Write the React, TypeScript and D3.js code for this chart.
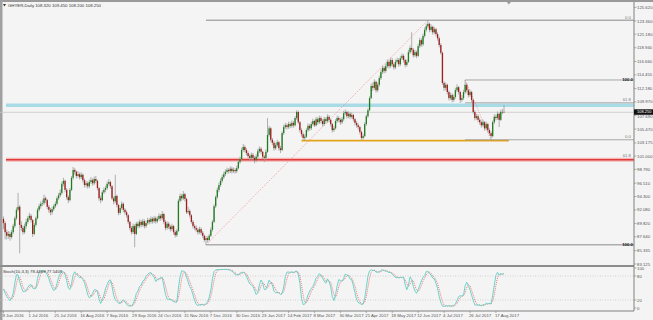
import React from 'react';
import * as d3 from 'd3';

const W = 653;
const H = 320;

const titleText = 'GHYER,Daily 108.320 109.450 108.200 108.250';
const stochTitle = 'Stoch(10,3,3) 78.4469 77.5409';

const firstOpen = 90.6;
const closes = [
  89.9,88.4,87.8,88.1,87.6,88.4,89.4,90.7,92.1,92.6,
  89.6,89.1,88.4,89.4,90.1,90.7,91.1,90.4,88.1,89.6,
  90.7,92.1,92.7,93.1,93.2,94.0,93.7,92.6,92.1,91.7,
  92.2,92.7,93.1,94.0,94.5,94.9,96.4,96.9,95.4,94.2,
  93.7,95.4,97.4,98.7,98.4,97.7,98.0,97.5,97.9,97.0,
  96.2,96.5,96.0,96.7,97.0,96.5,97.2,96.9,95.7,94.0,
  93.7,95.0,95.4,95.7,96.4,96.7,96.0,94.0,93.5,94.4,
  92.9,91.6,92.4,93.1,92.1,91.7,91.2,90.1,89.1,88.4,
  89.4,88.1,89.8,89.4,90.1,89.6,90.2,89.4,89.9,90.4,
  90.1,90.6,90.2,90.7,90.2,90.6,91.1,90.7,91.4,90.1,
  89.1,89.8,89.3,88.9,89.4,88.4,87.9,88.6,93.6,94.4,
  94.0,94.7,93.9,91.7,91.9,91.2,90.1,89.4,89.1,88.8,
  88.4,88.9,88.3,87.8,87.1,87.4,87.1,87.8,88.8,90.1,
  92.7,94.2,95.4,96.2,96.9,97.5,98.0,98.4,98.7,98.5,
  98.9,98.5,98.7,98.5,99.0,100.0,100.5,102.0,102.5,102.0,
  101.5,101.0,100.7,101.2,100.7,100.3,100.9,101.8,102.2,101.7,
  100.9,100.7,101.7,104.5,105.6,103.7,103.2,102.3,102.8,103.3,
  102.3,102.0,104.8,105.8,106.1,105.8,106.3,106.0,106.5,106.1,
  107.3,108.3,106.6,105.3,104.6,104.0,104.2,105.3,106.0,105.6,
  106.3,106.8,106.1,107.1,106.6,107.3,106.8,106.3,107.1,106.8,
  107.5,107.0,106.3,105.3,105.6,106.8,107.3,107.0,106.6,107.1,
  108.1,108.3,107.6,108.0,107.5,107.8,107.1,106.5,106.1,105.8,
  105.0,104.0,104.3,106.3,107.6,108.6,110.6,112.6,112.3,113.3,
  111.9,112.8,113.9,114.9,115.6,115.1,115.9,116.6,115.9,116.9,
  116.2,115.7,116.6,116.9,116.2,117.2,117.6,116.9,116.1,116.6,
  118.2,118.9,118.6,117.7,118.2,117.6,119.2,120.2,119.5,120.9,
  121.9,122.5,122.9,121.9,122.4,121.5,122.0,121.2,120.5,119.4,
  118.1,113.1,112.3,112.8,111.6,110.6,111.1,110.3,110.8,111.9,
  112.4,111.6,110.3,110.6,111.6,112.8,111.9,111.1,111.6,110.3,
  108.3,107.3,107.6,107.0,106.6,106.1,106.6,105.6,106.3,105.3,
  104.8,104.3,106.6,107.5,107.3,108.0,107.0,108.3,108.32,108.25,
];
const highs = [
  91.0,90.2,88.8,88.6,88.5,88.8,89.8,91.0,92.5,94.9,
  92.9,90.2,89.5,89.8,90.6,91.1,91.6,91.4,90.6,89.9,
  91.0,92.4,93.1,93.5,93.8,94.6,94.3,93.9,92.9,92.4,
  92.6,93.0,93.5,94.3,94.9,95.5,96.8,97.4,97.1,95.7,
  94.5,95.7,97.7,99.2,99.0,98.6,98.5,98.3,98.3,98.1,
  97.3,96.9,96.8,97.1,97.5,97.3,97.6,97.7,97.1,95.9,
  94.4,95.3,95.8,96.1,96.8,97.2,96.9,96.2,94.3,97.9,
  94.6,93.1,92.8,93.5,93.3,92.4,92.0,91.4,90.3,89.4,
  89.8,89.7,90.1,90.2,90.5,90.4,90.6,90.5,90.3,90.8,
  90.7,91.0,90.9,91.1,91.0,91.0,91.5,91.4,91.9,91.6,
  90.4,90.2,90.1,89.6,89.8,89.6,88.7,88.9,93.9,94.8,
  94.7,95.2,94.9,94.1,92.6,92.2,91.4,90.4,89.7,89.5,
  89.1,89.3,89.2,88.6,88.0,87.8,87.7,88.1,89.2,90.4,
  93.0,94.5,95.8,96.6,97.3,97.9,98.4,98.8,99.1,99.0,
  99.3,99.2,99.1,99.0,99.4,100.4,100.9,102.4,103.0,102.8,
  102.3,101.8,101.3,101.6,101.5,101.0,101.3,102.2,102.6,102.5,
  101.9,101.2,102.1,107.3,106.0,105.8,104.0,103.5,103.2,103.7,
  103.5,102.7,105.1,106.2,106.5,106.4,106.7,106.6,106.9,106.8,
  107.6,108.6,108.5,106.8,105.6,104.9,104.6,105.6,106.4,106.3,
  106.7,107.2,107.0,107.5,107.4,107.7,107.6,107.1,107.5,107.4,
  107.9,107.8,107.2,106.5,106.0,107.1,107.7,107.6,107.3,107.5,
  108.5,108.7,108.5,108.4,108.3,108.2,108.0,107.3,106.8,106.4,
  106.0,105.2,104.7,106.6,107.9,108.9,110.9,113.0,113.2,113.7,
  113.5,113.2,114.3,115.3,116.0,115.9,116.3,117.0,116.9,117.3,
  117.2,116.5,117.0,117.3,117.2,117.6,118.0,117.9,117.1,117.0,
  118.6,119.3,121.5,118.9,118.6,118.5,119.6,120.6,120.5,121.3,
  122.3,122.9,123.5,123.1,122.8,122.6,122.4,122.2,121.5,120.8,
  119.7,118.3,113.4,113.2,113.0,111.9,111.5,111.4,111.2,112.3,
  112.9,112.6,111.8,111.1,112.0,113.6,113.1,112.2,112.0,111.8,
  110.5,108.6,108.0,107.9,107.3,106.9,107.0,106.8,106.7,106.5,
  105.6,105.1,106.9,107.9,107.9,108.4,108.2,108.7,108.8,109.45,
];
const lows = [
  88.9,87.2,87.2,87.3,87.0,87.3,88.1,89.1,90.4,91.8,
  84.9,88.6,88.0,88.1,89.0,89.8,90.4,90.0,87.6,87.9,
  89.3,90.5,91.8,92.3,92.7,92.9,93.2,92.2,91.6,91.2,
  91.3,91.9,92.4,92.8,93.7,94.2,94.6,96.0,95.0,93.8,
  93.2,93.5,95.2,97.1,97.9,97.3,97.4,97.1,97.2,96.6,
  95.8,95.8,95.6,95.7,96.4,96.1,96.2,96.5,95.3,93.6,
  93.2,93.5,94.7,95.0,95.4,96.1,95.6,93.7,93.0,93.2,
  92.5,91.2,91.3,92.1,91.7,91.3,90.8,89.7,88.7,88.0,
  88.1,85.9,87.9,89.0,89.1,89.2,89.3,89.0,89.1,89.6,
  89.7,89.8,89.8,89.9,89.8,89.9,90.3,90.3,90.4,89.7,
  88.7,88.8,88.9,88.5,88.6,88.0,87.5,87.6,88.4,93.3,
  93.6,93.7,93.5,91.4,91.4,90.8,89.8,89.0,88.7,88.4,
  88.0,88.1,87.9,87.4,86.8,86.3,86.7,86.9,87.6,88.5,
  89.9,92.4,93.9,95.0,95.9,96.6,97.2,97.7,98.1,98.1,
  98.2,98.1,98.2,98.1,98.2,98.8,99.7,100.3,101.7,101.6,
  101.1,100.6,100.2,100.4,100.3,99.8,100.0,100.6,101.5,101.3,
  100.5,100.0,100.4,101.5,104.2,103.3,102.8,101.9,102.0,102.5,
  101.9,101.5,101.8,104.5,105.5,105.4,105.5,105.6,105.7,105.7,
  105.9,107.0,106.3,104.9,104.2,103.7,103.5,104.0,105.0,105.2,
  105.3,106.0,105.8,105.9,106.2,106.3,106.4,105.9,106.0,106.4,
  106.5,106.6,105.9,104.9,105.0,105.4,106.5,106.6,106.2,106.3,
  106.8,107.8,107.2,107.3,107.1,107.2,106.7,106.1,105.7,105.4,
  104.6,103.7,103.7,104.1,106.0,107.3,108.4,110.4,111.8,112.0,
  111.5,111.6,112.5,113.6,114.6,114.7,114.8,115.6,115.5,115.6,
  115.8,115.3,115.4,116.3,115.8,115.9,116.9,116.5,115.7,115.8,
  116.4,117.9,118.2,117.3,117.4,117.2,117.4,118.9,119.1,119.2,
  120.6,121.6,122.2,121.5,121.6,121.1,121.2,120.8,120.1,119.0,
  117.8,112.8,111.8,111.9,111.2,110.2,110.3,109.9,110.0,110.5,
  111.6,111.2,109.8,110.0,110.3,111.3,111.5,110.7,110.8,109.9,
  108.0,106.9,107.0,106.6,106.2,105.7,105.8,105.2,105.3,104.9,
  104.4,103.7,104.1,106.3,106.9,107.0,105.8,106.8,107.9,108.2,
];

const priceTicks = [125.62, 123.36, 121.18, 118.94, 116.66, 114.455, 112.18, 109.97, 107.69, 105.47, 103.175, 101.0, 98.79, 96.51, 94.3, 92.08, 89.82, 87.64, 85.335, 83.125];
const dateLabels = ['9 Jun 2016', '1 Jul 2016', '25 Jul 2016', '16 Aug 2016', '7 Sep 2016', '29 Sep 2016', '24 Oct 2016', '15 Nov 2016', '7 Dec 2016', '30 Dec 2016', '23 Jan 2017', '14 Feb 2017', '8 Mar 2017', '30 Mar 2017', '21 Apr 2017', '18 May 2017', '12 Jun 2017', '4 Jul 2017', '26 Jul 2017', '17 Aug 2017'];
const dateLabelStep = 16;
const stochTicks = [100, 80, 20, 0];
const stochLevels = [80, 20];
const lastPrice = 108.25;

// drawn objects
const bigFibLow = { bar: 125, price: 86.3 };
const bigFibHigh = { bar: 262, price: 123.5 };
const smallFibHigh = { bar: 285, price: 113.6 };
const smallFibLow = { bar: 301, price: 103.7 };
const blueLevel = 109.4;
const redLevel = 100.4;
const orangeLevel = { fromBar: 184, toBar: 312, price: 103.55 };

const FONT = 'Liberation Sans, Arial, sans-serif';
const FS = 4.3;

export default function App() {
  const n = closes.length;
  const xs = d3.scaleLinear().domain([0, n - 1]).range([3.5, 504]);
  const ys = d3.scaleLinear().domain([83.125, 125.62]).range([264, 7.4]);
  const ss = d3.scaleLinear().domain([0, 100]).range([308, 268]);
  const axisX = 634;

  const opens = closes.map((c, i) => (i === 0 ? firstOpen : closes[i - 1]));

  // Stochastic (10,3,3), MT4 style
  const hh: number[] = [], ll: number[] = [];
  for (let i = 0; i < n; i++) {
    const s = Math.max(0, i - 9);
    hh.push(d3.max(highs.slice(s, i + 1)) as number);
    ll.push(d3.min(lows.slice(s, i + 1)) as number);
  }
  const K: number[] = [];
  for (let i = 0; i < n; i++) {
    const s = Math.max(0, i - 2);
    let num = 0, den = 0;
    for (let j = s; j <= i; j++) { num += closes[j] - ll[j]; den += hh[j] - ll[j]; }
    K.push(den === 0 ? 100 : (num / den) * 100);
  }
  const D = K.map((_, i) => d3.mean(K.slice(Math.max(0, i - 2), i + 1)) as number);
  const line = d3.line<number>().x((_, i) => xs(i)).y((v) => ss(v));

  const fibBigLevels = [0, 61.8, 100];
  const bigRange = bigFibHigh.price - bigFibLow.price;
  const smallRange = smallFibHigh.price - smallFibLow.price;
  const lpY = ys(lastPrice);

  return (
    <svg width={W} height={H} style={{ position: 'absolute', left: 0, top: 0, background: '#f4f4f4' }} fontFamily={FONT}>
      <rect x={0} y={0} width={W} height={H} fill="#f4f4f4" />
      {/* borders */}
      <rect x={0} y={0} width={W} height={2} fill="#9a9a9a" />
      <rect x={0} y={0} width={2.5} height={H} fill="#a0a0a0" />
      <path d={`M${xs(n + 2) - 2},2 L${xs(n + 2) + 2},2 L${xs(n + 2)},4.5 Z`} fill="#9a9a9a" />

      {/* horizontal objects */}
      <line x1={6} x2={axisX} y1={ys(blueLevel)} y2={ys(blueLevel)} stroke="#a9dbe6" strokeWidth={3.5} />
      <line x1={0} x2={axisX} y1={lpY} y2={lpY} stroke="#c8c8c8" strokeWidth={0.8} />
      <line x1={6} x2={axisX} y1={ys(redLevel)} y2={ys(redLevel)} stroke="#f4b8b8" strokeWidth={4} />
      <line x1={6} x2={axisX} y1={ys(redLevel)} y2={ys(redLevel)} stroke="#e23a3a" strokeWidth={1.6} />
      <line x1={xs(orangeLevel.fromBar)} x2={xs(orangeLevel.toBar)} y1={ys(orangeLevel.price)} y2={ys(orangeLevel.price)} stroke="#e3a41a" strokeWidth={1.6} />

      {/* big fib */}
      {fibBigLevels.map((lv) => {
        const p = bigFibHigh.price - (lv / 100) * bigRange;
        return <line key={'bf' + lv} x1={xs(bigFibLow.bar)} x2={axisX} y1={ys(p)} y2={ys(p)} stroke={lv === 61.8 ? 'none' : '#8a8a8a'} strokeWidth={1} />;
      })}
      {/* small fib */}
      {[0, 61.8, 100].map((lv) => {
        const p = smallFibLow.price + (lv / 100) * smallRange;
        return <line key={'sf' + lv} x1={xs(smallFibHigh.bar)} x2={axisX} y1={ys(p)} y2={ys(p)} stroke="#9a9a9a" strokeOpacity={0.85} strokeWidth={1} />;
      })}
      <line x1={xs(bigFibLow.bar)} y1={ys(bigFibLow.price)} x2={xs(bigFibHigh.bar)} y2={ys(bigFibHigh.price)} stroke="#f07070" strokeWidth={0.7} strokeDasharray="1,1.5" />
      <line x1={xs(smallFibHigh.bar)} y1={ys(smallFibHigh.price)} x2={xs(smallFibLow.bar)} y2={ys(smallFibLow.price)} stroke="#f07070" strokeWidth={0.7} strokeDasharray="1,1.5" />

      {/* fib labels */}
      <text x={631} y={ys(bigFibHigh.price) - 1.5} fontSize={FS} fill="#777" textAnchor="end">0.0</text>
      <text x={631} y={ys(bigFibHigh.price - 0.618 * bigRange) - 2} fontSize={FS} fill="#777" textAnchor="end">61.8</text>
      <text x={633} y={ys(bigFibLow.price) + 1.5} fontSize={FS} fill="#111" fontWeight="bold" textAnchor="end">100.0</text>
      <text x={631} y={ys(smallFibLow.price) - 1.5} fontSize={FS} fill="#777" textAnchor="end">0.0</text>
      <text x={631} y={ys(smallFibLow.price + 0.618 * smallRange) - 1.5} fontSize={FS} fill="#777" textAnchor="end">61.8</text>
      <text x={633} y={ys(smallFibHigh.price) + 1.5} fontSize={FS} fill="#111" fontWeight="bold" textAnchor="end">100.0</text>

      {/* candles */}
      {closes.map((c, i) => {
        const o = opens[i];
        const x = xs(i);
        const up = c >= o;
        const top = ys(Math.max(o, c));
        const bot = ys(Math.min(o, c));
        return (
          <g key={'c' + i}>
            <line x1={x} x2={x} y1={ys(highs[i])} y2={ys(lows[i])} stroke="#9c9c9c" strokeWidth={0.8} />
            <rect x={x - 0.65} y={top} width={1.3} height={Math.max(0.6, bot - top)} fill={up ? '#1f7d1f' : '#a11c1c'} />
          </g>
        );
      })}

      {/* title */}
      <path d="M3,4 L6,4 L4.5,6.5 Z" fill="#333" />
      <text x={8} y={6.5} fontSize={FS} fill="#333">{titleText}</text>

      {/* separator main / sub window */}
      <rect x={0} y={265} width={axisX} height={2} fill="#8c8c8c" />

      {/* stochastic */}
      {stochLevels.map((lv) => (
        <line key={'sl' + lv} x1={0} x2={axisX} y1={ss(lv)} y2={ss(lv)} stroke="#bdbdbd" strokeWidth={0.6} strokeDasharray="1,1.5" />
      ))}
      <path d={line(D) || ''} fill="none" stroke="#f06a6a" strokeWidth={0.9} strokeDasharray="1,1" />
      <path d={line(K) || ''} fill="none" stroke="#5ccfc6" strokeWidth={0.9} />
      <text x={3} y={273} fontSize={FS} fill="#333">{stochTitle}</text>

      {/* right axis */}
      <line x1={axisX} x2={axisX} y1={2} y2={311} stroke="#808080" strokeWidth={1} />
      {priceTicks.map((p) => (
        <g key={'pt' + p}>
          <line x1={axisX} x2={axisX + 2.5} y1={ys(p)} y2={ys(p)} stroke="#808080" strokeWidth={0.6} />
          <text x={axisX + 3} y={ys(p) + 1.5 + (p === 107.69 ? 1 : 0)} fontSize={FS} fill="#555">{p.toFixed(3)}</text>
        </g>
      ))}
      <rect x={axisX} y={lpY - 3} width={19} height={5.5} fill="#111" />
      <text x={axisX + 3} y={lpY + 1.1} fontSize={4} fill="#fff">{lastPrice.toFixed(3)}</text>
      {stochTicks.map((v) => (
        <g key={'st' + v}>
          <line x1={axisX} x2={axisX + 2.5} y1={ss(v)} y2={ss(v)} stroke="#808080" strokeWidth={0.6} />
          <text x={axisX + 3} y={ss(v) + 1.5} fontSize={FS} fill="#555">{v}</text>
        </g>
      ))}

      {/* bottom axis */}
      <line x1={0} x2={axisX} y1={311} y2={311} stroke="#808080" strokeWidth={1} />
      {dateLabels.map((d, k) => {
        const x = xs(k * dateLabelStep);
        return (
          <g key={'dl' + k}>
            <line x1={x} x2={x} y1={311} y2={313} stroke="#808080" strokeWidth={0.6} />
            <text x={x - 1} y={317} fontSize={FS} fill="#555">{d}</text>
          </g>
        );
      })}
    </svg>
  );
}
